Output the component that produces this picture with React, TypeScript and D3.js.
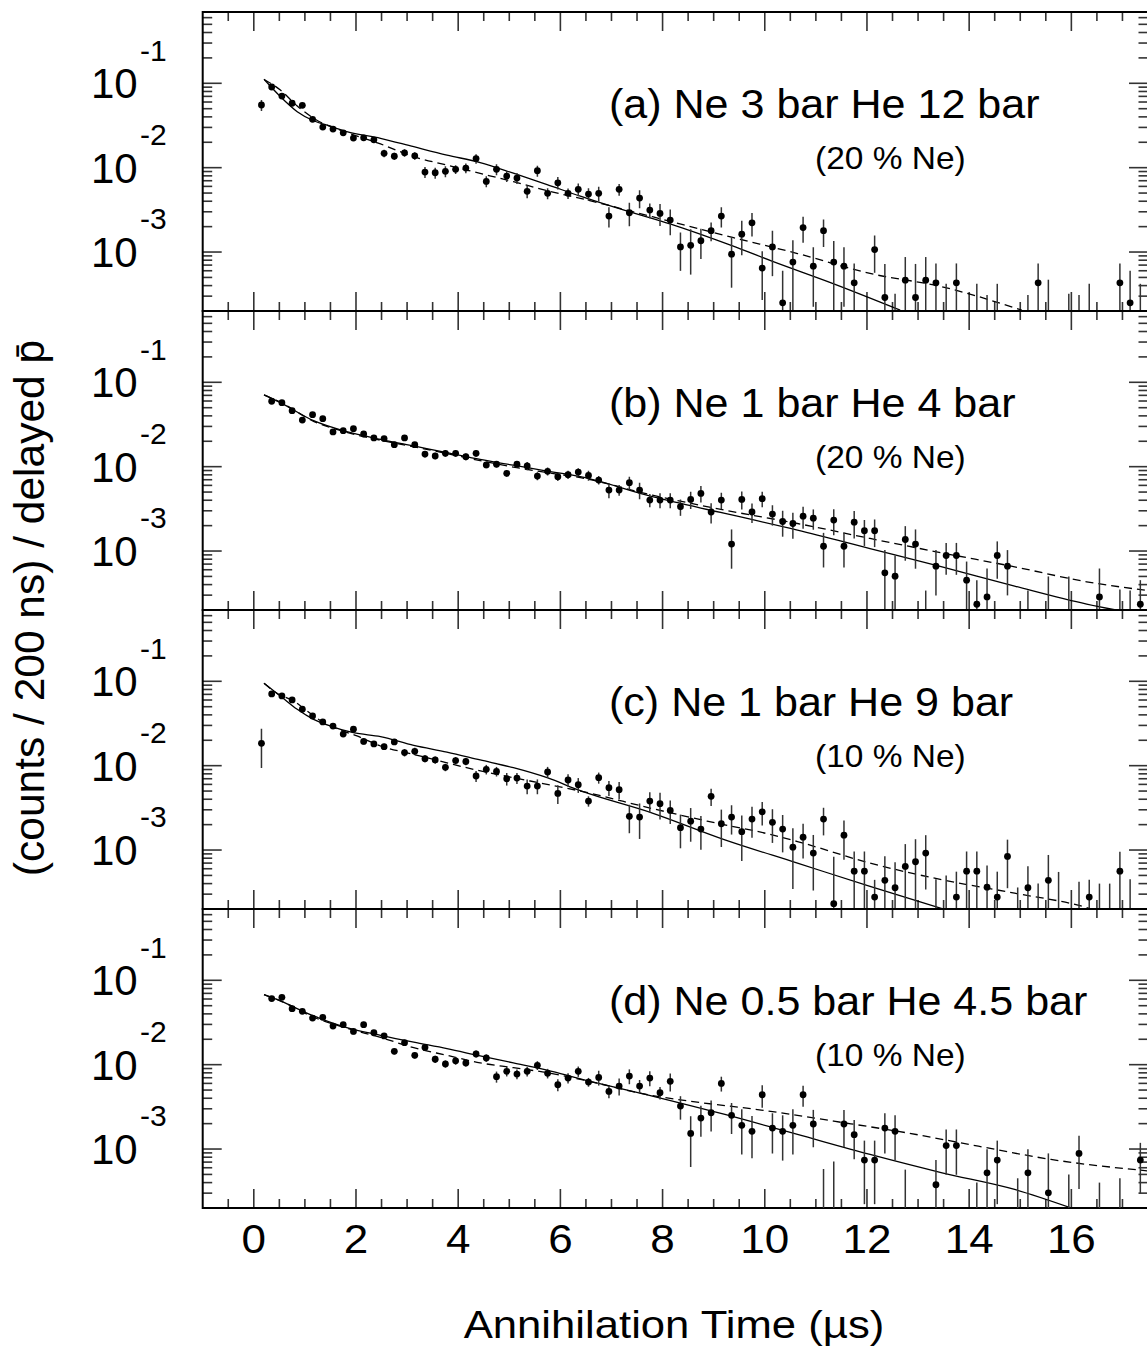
import React from 'react';
import * as d3 from 'd3';

// ---------- data (bin centres: 0.15 + 0.2*k µs, k = 0..86) ----------
const BIN0 = 0.15;
const BINW = 0.2;

const panelTitles = ['(a) Ne 3 bar He 12 bar', '(b) Ne 1 bar He 4 bar', '(c) Ne 1 bar He 9 bar', '(d) Ne 0.5 bar He 4.5 bar'];
const panelSubtitles = ['(20 % Ne)', '(20 % Ne)', '(10 % Ne)', '(10 % Ne)'];

const xTickLabels = [0, 2, 4, 6, 8, 10, 12, 14, 16];
const yDecades = [0.1, 0.01, 0.001];
const yDecadeExp = ['-1', '-2', '-3'];

// panel (a)
const aVal = [
  0.0553, 0.0904, 0.0706, 0.058, 0.0548, 0.0374, 0.0303, 0.0287, 0.0259, 0.0224,
  0.0226, 0.0214, 0.0148, 0.0137, 0.015, 0.0138, 0.00887, 0.0087, 0.00904, 0.00955,
  0.00989, 0.0128, 0.00687, 0.00955, 0.00794, 0.00753, 0.00524, 0.00919, 0.00496, 0.00662,
  0.00496, 0.00553, 0.00486, 0.00496, 0.00267, 0.00553, 0.00292, 0.00436, 0.00314, 0.00287,
  0.00239, 0.00115, 0.0012, 0.00136, 0.00179, 0.00267, 0.000944, 0.00163, 0.00222, 0.000645,
  0.00115, 0.00025, 0.00076, 0.00195, 0.00068, 0.00179, 0.00076, 0.00068, 0.000431, 0,
  0.00107, 0.000289, 0, 0.000464, 0.000289, 0.000464, 0.000431, 0, 0.000431, 0,
  0, 0, 0, 0, 0, 0, 0.000431, 0, 0, 0,
  0, 0, 0, 0, 0.000431, 0.00025, 0,
];
const aRel = [
  0.15, 0.05, 0.05, 0.05, 0.05, 0.07, 0.07, 0.07, 0.07, 0.07,
  0.07, 0.07, 0.1, 0.1, 0.1, 0.1, 0.15, 0.15, 0.15, 0.12,
  0.13, 0.13, 0.15, 0.15, 0.15, 0.15, 0.17, 0.15, 0.15, 0.17,
  0.14, 0.17, 0.17, 0.2, 0.27, 0.16, 0.31, 0.24, 0.2, 0.29,
  0.34, 0.48, 0.55, 0.39, 0.25, 0.27, 0.6, 0.44, 0.31, 0.58,
  0.55, 1.4, 0.82, 0.34, 0.67, 0.36, 0.78, 0.67, 0.7, 0,
  0.47, 1.5, 0, 0.88, 1.5, 0.88, 0.7, 0, 0.7, 0,
  0, 0, 0, 0, 0, 0, 0.7, 0, 0, 0,
  0, 0, 0, 0, 0.7, 1.4, 0,
];
const aEmptyBin = [62, 67, 70, 71, 72, 75, 77, 79, 80, 81, 86];
const aEmptyTop = [0.00032, 0.00042, 0.00042, 0.00031, 0.00042, 0.00031, 0.00047, 0.00032, 0.00031, 0.00042, 0.00042];
const aSolidX = [0.2, 0.52, 0.85, 1.17, 1.5, 1.82, 2.48, 3.13, 3.78, 4.43, 5.08, 5.74, 6.39, 7.2, 8.16, 9.37, 10.14, 11.35, 12.65];
const aSolidY = [0.1115, 0.0695, 0.0461, 0.036, 0.031, 0.0267, 0.0223, 0.0177, 0.0141, 0.0115, 0.0086, 0.0063, 0.0046, 0.0032, 0.00214, 0.00118, 0.00078, 0.00042, 0.000205];
const aDashX = [0.2, 0.52, 0.85, 1.17, 1.82, 2.48, 3.13, 3.78, 4.43, 5.08, 5.74, 6.39, 7.8, 9.37, 10.64, 12.06, 13.47, 15.03];
const aDashY = [0.111, 0.0834, 0.0538, 0.0385, 0.0262, 0.0191, 0.0135, 0.0107, 0.00855, 0.00682, 0.00533, 0.00433, 0.00262, 0.00149, 0.00096, 0.000557, 0.000387, 0.000205];

// panel (b)
const bVal = [
  0, 0.0596, 0.0574, 0.0461, 0.0357, 0.0413, 0.0371, 0.0258, 0.0267, 0.0282,
  0.0244, 0.0219, 0.0215, 0.0182, 0.0219, 0.0182, 0.0141, 0.0134, 0.0144, 0.0144,
  0.0131, 0.0144, 0.0105, 0.0107, 0.00833, 0.0107, 0.0102, 0.00774, 0.0088, 0.0076,
  0.00804, 0.00863, 0.00787, 0.00694, 0.00528, 0.00528, 0.00646, 0.00528, 0.00402, 0.00402,
  0.00402, 0.00335, 0.00409, 0.00482, 0.0029, 0.00402, 0.00121, 0.00409, 0.0029, 0.00417,
  0.00274, 0.00224, 0.00212, 0.00259, 0.00245, 0.00114, 0.00233, 0.00114, 0.0022, 0.00174,
  0.00174, 0.000552, 0.000504, 0.00137, 0.00121, 0, 0.000662, 0.000885, 0.000885, 0.000452,
  0.000234, 0.000286, 0.000885, 0.000662, 0, 0, 0, 0, 0, 0,
  0, 0, 0.000286, 0, 0, 0, 0.000234,
];
const bRel = [
  0, 0.05, 0.05, 0.05, 0.05, 0.05, 0.05, 0.07, 0.07, 0.07,
  0.07, 0.07, 0.07, 0.07, 0.07, 0.07, 0.09, 0.09, 0.09, 0.09,
  0.09, 0.09, 0.09, 0.09, 0.09, 0.09, 0.11, 0.11, 0.11, 0.11,
  0.11, 0.11, 0.136, 0.116, 0.2, 0.146, 0.178, 0.222, 0.178, 0.2,
  0.2, 0.22, 0.23, 0.22, 0.267, 0.22, 0.49, 0.24, 0.26, 0.21,
  0.27, 0.34, 0.34, 0.29, 0.27, 0.44, 0.34, 0.44, 0.36, 0.34,
  0.36, 0.86, 0.76, 0.44, 0.49, 0, 0.55, 0.41, 0.41, 0.66,
  0.93, 1.17, 0.47, 0.55, 0, 0, 0, 0, 0, 0,
  0, 0, 1.17, 0, 0, 0, 0.93,
];
const bEmptyBin = [65, 75, 77, 79, 84, 85];
const bEmptyTop = [0.00034, 0.00034, 0.0005, 0.0005, 0.00035, 0.00034];
const bSolidX = [0.2, 0.52, 1.17, 1.82, 2.48, 3.13, 3.78, 4.43, 5.08, 5.74, 6.39, 7.8, 9.22, 10.64, 12.06, 13.47, 14.89, 16.3, 16.87];
const bSolidY = [0.0708, 0.0574, 0.0351, 0.026, 0.0211, 0.0176, 0.0147, 0.0122, 0.0104, 0.00887, 0.0076, 0.0044, 0.00279, 0.00177, 0.00107, 0.00065, 0.000384, 0.000235, 0.0002];
const bDashX = [0.2, 0.52, 1.17, 1.82, 2.48, 3.13, 3.78, 4.43, 5.08, 5.74, 6.39, 7.8, 9.22, 10.64, 12.06, 13.47, 14.89, 16.3, 17.5];
const bDashY = [0.0708, 0.058, 0.0345, 0.0255, 0.0206, 0.0172, 0.0143, 0.0118, 0.0099, 0.0085, 0.0074, 0.0046, 0.00305, 0.00212, 0.00141, 0.00095, 0.00065, 0.000432, 0.00034];

// panel (c)
const cVal = [
  0.0184, 0.0708, 0.067, 0.0601, 0.0466, 0.0388, 0.033, 0.0295, 0.0237, 0.027,
  0.0194, 0.0181, 0.0168, 0.0191, 0.0143, 0.0148, 0.0121, 0.0117, 0.00955, 0.0115,
  0.0112, 0.00754, 0.00904, 0.00855, 0.007, 0.00713, 0.00573, 0.00573, 0.00841, 0.00469,
  0.00676, 0.00594, 0.0038, 0.0072, 0.00548, 0.00519, 0.00251, 0.00246, 0.0038, 0.00354,
  0.00295, 0.00184, 0.0022, 0.00177, 0.00433, 0.00205, 0.00246, 0.00165, 0.00233, 0.00284,
  0.00213, 0.00177, 0.00108, 0.00142, 0.00092, 0.00233, 0.000231, 0.0015, 0.000562, 0.000562,
  0.000277, 0.000437, 0.000357, 0.000639, 0.000726, 0.00092, 0, 0, 0.000277, 0.000562,
  0.000562, 0.000363, 0.000277, 0.00084, 0, 0.000357, 0, 0.000437, 0, 0,
  0, 0.000277, 0, 0, 0.000562, 0, 0,
];
const cRel = [
  0.49, 0.05, 0.05, 0.05, 0.05, 0.05, 0.05, 0.05, 0.08, 0.08,
  0.08, 0.08, 0.08, 0.08, 0.1, 0.1, 0.1, 0.1, 0.1, 0.1,
  0.1, 0.15, 0.13, 0.13, 0.17, 0.15, 0.2, 0.2, 0.15, 0.25,
  0.17, 0.2, 0.14, 0.15, 0.2, 0.23, 0.37, 0.45, 0.27, 0.35,
  0.31, 0.43, 0.43, 0.43, 0.23, 0.47, 0.38, 0.55, 0.4, 0.31,
  0.43, 0.47, 0.68, 0.44, 0.64, 0.36, 2.6, 0.49, 0.71, 0.71,
  0.6, 0.93, 1.0, 0.84, 0.85, 0.63, 0, 0, 1.0, 0.71,
  0.71, 0.8, 1.0, 0.58, 0, 0.8, 0, 1.0, 0, 0,
  0, 0.6, 0, 0, 0.7, 0, 0,
];
const cEmptyBin = [66, 67, 74, 76, 78, 80, 82, 83, 85];
const cEmptyTop = [0.00045, 0.0005, 0.00036, 0.0004, 0.00055, 0.00042, 0.0004, 0.0004, 0.00045];
const cSolidX = [0.2, 0.52, 0.85, 1.17, 1.5, 1.95, 2.48, 3.13, 3.78, 4.43, 5.08, 5.74, 6.39, 7.8, 9.22, 10.64, 12.06, 13.54];
const cSolidY = [0.0946, 0.067, 0.0466, 0.0354, 0.0295, 0.0246, 0.0221, 0.0174, 0.0145, 0.0117, 0.00946, 0.0072, 0.00505, 0.00274, 0.00132, 0.0007, 0.00037, 0.000196];
const cDashX = [0.2, 0.46, 0.78, 1.04, 1.37, 1.69, 2.02, 2.48, 3.13, 3.78, 4.3, 4.76, 5.41, 6.07, 6.39, 7.8, 8.87, 10.07, 10.64, 12.06, 13.47, 14.89, 16.23, 16.4];
const cDashY = [0.0946, 0.0714, 0.0584, 0.0445, 0.0323, 0.0265, 0.0225, 0.0171, 0.0136, 0.0108, 0.00904, 0.00789, 0.00658, 0.00548, 0.005, 0.0031, 0.0022, 0.00155, 0.00126, 0.0007, 0.000444, 0.000308, 0.000214, 0.0002];

// panel (d)
const dVal = [
  0, 0.0607, 0.0629, 0.0461, 0.0429, 0.0357, 0.0364, 0.0287, 0.0298, 0.0248,
  0.0298, 0.0239, 0.0219, 0.0144, 0.0182, 0.0129, 0.016, 0.0116, 0.0102, 0.0111,
  0.0105, 0.0134, 0.012, 0.0072, 0.00833, 0.00774, 0.00833, 0.00982, 0.00789, 0.00578,
  0.00694, 0.00833, 0.00622, 0.00706, 0.00482, 0.00558, 0.00733, 0.00558, 0.00694, 0.00465,
  0.00634, 0.00323, 0.00153, 0.00233, 0.00269, 0.006, 0.00251, 0.00191, 0.00162, 0.0044,
  0.00177, 0.00162, 0.00191, 0.0044, 0.00198, 0, 0, 0.00198, 0.00148, 0.00074,
  0.00074, 0.00177, 0.00162, 0, 0, 0, 0.000377, 0.0011, 0.0011, 0,
  0, 0.000523, 0.00074, 0, 0, 0.000523, 0, 0.000303, 0, 0,
  0.000887, 0, 0, 0, 0, 0, 0.00074,
];
const dRel = [
  0, 0.05, 0.05, 0.05, 0.05, 0.05, 0.05, 0.05, 0.05, 0.08,
  0.08, 0.08, 0.08, 0.08, 0.08, 0.08, 0.08, 0.1, 0.1, 0.1,
  0.1, 0.1, 0.1, 0.15, 0.13, 0.13, 0.13, 0.12, 0.13, 0.16,
  0.14, 0.14, 0.12, 0.2, 0.17, 0.23, 0.2, 0.18, 0.2, 0.17,
  0.24, 0.31, 0.6, 0.4, 0.4, 0.2, 0.4, 0.55, 0.52, 0.3,
  0.5, 0.55, 0.55, 0.28, 0.47, 0, 0, 0.47, 0.49, 0.7,
  0.7, 0.5, 0.55, 0, 0, 0, 0.96, 0.55, 0.55, 0,
  0, 0.9, 0.7, 0, 0, 0.9, 0, 1.93, 0, 0,
  0.62, 0, 0, 0, 0, 0, 0.6,
];
const dEmptyBin = [55, 56, 63, 70, 74, 79, 82, 84];
const dEmptyTop = [0.00058, 0.00071, 0.00057, 0.0004, 0.00045, 0.0005, 0.0004, 0.00045];
const dSolidX = [0.2, 0.52, 1.17, 1.82, 2.48, 3.13, 3.78, 4.43, 5.08, 5.74, 6.39, 7.8, 9.22, 10.64, 12.06, 13.47, 14.89, 15.99];
const dSolidY = [0.0676, 0.0569, 0.0378, 0.0275, 0.0223, 0.0185, 0.0155, 0.0127, 0.0105, 0.00863, 0.0068, 0.00425, 0.00257, 0.00149, 0.000863, 0.000523, 0.000332, 0.000201];
const dDashX = [0.2, 0.52, 1.17, 1.82, 2.48, 3.13, 3.78, 4.43, 5.08, 5.74, 6.39, 7.8, 8.51, 9.93, 11.35, 12.77, 14.18, 15.6, 17.5];
const dDashY = [0.0676, 0.057, 0.0365, 0.027, 0.021, 0.0159, 0.0129, 0.0105, 0.0092, 0.00804, 0.0067, 0.0043, 0.00371, 0.0029, 0.00214, 0.00156, 0.00108, 0.000753, 0.00055];

const panels = [
  { val: aVal, rel: aRel, eBin: aEmptyBin, eTop: aEmptyTop, sX: aSolidX, sY: aSolidY, dX: aDashX, dY: aDashY },
  { val: bVal, rel: bRel, eBin: bEmptyBin, eTop: bEmptyTop, sX: bSolidX, sY: bSolidY, dX: bDashX, dY: bDashY },
  { val: cVal, rel: cRel, eBin: cEmptyBin, eTop: cEmptyTop, sX: cSolidX, sY: cSolidY, dX: cDashX, dY: cDashY },
  { val: dVal, rel: dRel, eBin: dEmptyBin, eTop: dEmptyTop, sX: dSolidX, sY: dSolidY, dX: dDashX, dY: dDashY },
];

// ---------- layout ----------
const W = 1147;
const H = 1353;
const X0 = 202.7;
const X1 = 1148;
const PANEL_TOPS = [12, 311, 610, 909];
const PH = 299;
const YMIN = 2e-4;
const YMAX = 0.7;
const FONT = '"Liberation Sans", Arial, Helvetica, sans-serif';

function SText({ x, y, size, sx = 1, anchor = 'start', children }: any) {
  return (
    <text
      transform={`translate(${x},${y}) scale(${sx},1)`}
      x={0}
      y={0}
      fontSize={size}
      textAnchor={anchor}
      fill="#000"
    >
      {children}
    </text>
  );
}

export default function App() {
  const x = d3.scaleLinear().domain([-1, 17.5]).range([X0, X1]);
  const xMinor = d3.range(-0.5, 17.5, 0.5);
  const logMinor: number[] = [];
  [1e-4, 1e-3, 1e-2, 1e-1].forEach((d) => {
    for (let m = 1; m <= 9; m++) {
      const v = d * m;
      if (v > YMIN && v < YMAX) logMinor.push(v);
    }
  });

  return (
    <div style={{ position: 'absolute', left: 0, top: 0, width: W, height: H, background: '#fff' }}>
      <svg width={W} height={H} style={{ display: 'block' }} fontFamily={FONT}>
        <rect x={0} y={0} width={W} height={H} fill="#fff" />
        <defs>
          {PANEL_TOPS.map((top, i) => (
            <clipPath id={`clip${i}`} key={i}>
              <rect x={X0} y={top} width={X1 - X0} height={PH} />
            </clipPath>
          ))}
        </defs>
        {panels.map((p, i) => {
          const top = PANEL_TOPS[i];
          const bottom = top + PH;
          const y = d3.scaleLog().domain([YMIN, YMAX]).range([bottom, top]);
          const solid = d3
            .line<number>()
            .x((_, j) => x(p.sX[j]))
            .y((v) => y(v))
            .curve(d3.curveMonotoneX)(p.sY) as string;
          const dashed = d3
            .line<number>()
            .x((_, j) => x(p.dX[j]))
            .y((v) => y(v))
            .curve(d3.curveMonotoneX)(p.dY) as string;
          return (
            <g key={i}>
              {xMinor.map((t) => {
                const major = Math.abs(t / 2 - Math.round(t / 2)) < 1e-6;
                const len = major ? 19 : 9;
                const xx = x(t);
                return (
                  <g key={t} stroke="#333" strokeWidth={1.6}>
                    <line x1={xx} x2={xx} y1={top} y2={top + len} />
                    <line x1={xx} x2={xx} y1={bottom} y2={bottom - len} />
                  </g>
                );
              })}
              {logMinor.map((v) => {
                const major = yDecades.some((d) => Math.abs(d - v) / d < 1e-6);
                const len = major ? 19 : 9.5;
                const yy = y(v);
                return (
                  <g key={v} stroke="#333" strokeWidth={1.6}>
                    <line x1={X0} x2={X0 + len} y1={yy} y2={yy} />
                    <line x1={X1} x2={X1 - len} y1={yy} y2={yy} />
                  </g>
                );
              })}
              <rect x={X0} y={top} width={X1 - X0} height={PH} fill="none" stroke="#000" strokeWidth={2} />
              {yDecades.map((d, j) => (
                <g key={d}>
                  <text x={91} y={y(d) + 15} fontSize={42} fill="#000">10</text>
                  <text x={140} y={y(d) - 22.6} fontSize={30} fill="#000">{yDecadeExp[j]}</text>
                </g>
              ))}
              <SText x={609} y={top + 105.5} size={41} sx={1.05}>{panelTitles[i]}</SText>
              <SText x={815} y={top + 157} size={31} sx={1.08}>{panelSubtitles[i]}</SText>
              <g clipPath={`url(#clip${i})`}>
                <path d={solid} fill="none" stroke="#000" strokeWidth={1.3} />
                <path d={dashed} fill="none" stroke="#000" strokeWidth={1.3} strokeDasharray="8,5" />
                {p.eBin.map((k, j) => {
                  const xx = x(BIN0 + BINW * k);
                  return <line key={`e${k}`} x1={xx} x2={xx} y1={bottom} y2={y(p.eTop[j])} stroke="#333" strokeWidth={1.5} />;
                })}
                {p.val.map((v, k) => {
                  if (!(v > 0)) return null;
                  const xx = x(BIN0 + BINW * k);
                  const e = v * p.rel[k];
                  const hi = Math.min(v + e, YMAX);
                  const lo = v - e;
                  const yHi = y(hi);
                  const yLo = lo > YMIN ? y(lo) : bottom;
                  return (
                    <g key={k}>
                      <line x1={xx} x2={xx} y1={yHi} y2={yLo} stroke="#333" strokeWidth={1.5} />
                      {v >= YMIN && <circle cx={xx} cy={y(v)} r={3.4} fill="#000" />}
                    </g>
                  );
                })}
              </g>
            </g>
          );
        })}
        {xTickLabels.map((t) => (
          <SText key={t} x={x(t)} y={1253} size={40} sx={1.1} anchor="middle">{String(t)}</SText>
        ))}
        <SText x={674} y={1338} size={39} sx={1.12} anchor="middle">Annihilation Time (µs)</SText>
        <text transform="translate(44,608) rotate(-90)" fontSize={42.5} textAnchor="middle" fill="#000">
          (counts / 200 ns) / delayed p{'\u0304'}
        </text>
      </svg>
    </div>
  );
}
